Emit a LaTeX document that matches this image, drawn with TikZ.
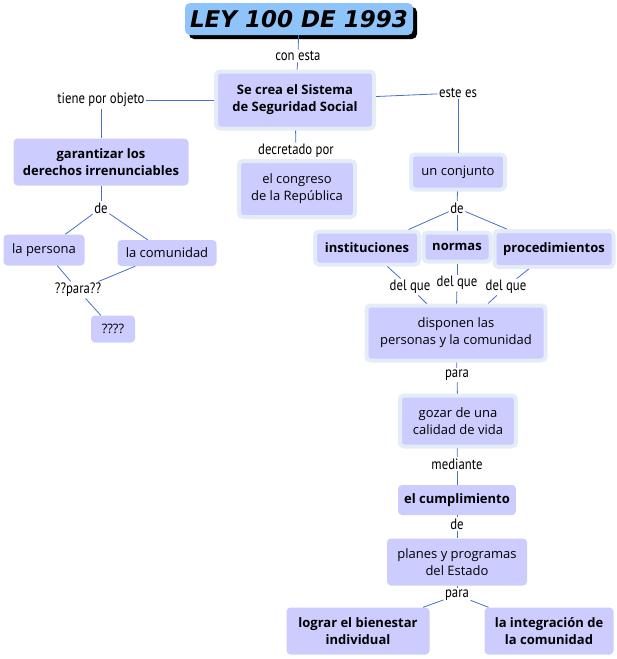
\documentclass[tikz,border=0pt]{standalone}
\usepackage{fontspec}
\usetikzlibrary{shadows}
\newfontfamily\boxfont{Open Sans}
\newfontfamily\titlefont{DejaVu Sans}
\newfontfamily\lblfont[FakeStretch=0.85]{PT Sans}
\definecolor{boxfill}{RGB}{204,204,255}
\definecolor{haloc}{RGB}{228,236,247}
\definecolor{linec}{RGB}{72,110,200}
\definecolor{titlefill}{RGB}{142,196,250}
\tikzstyle{concept} = [rectangle, rounded corners=4pt, fill=boxfill, align=center, inner sep=1pt, font=\boxfont\fontsize{13}{17}\selectfont]
\tikzstyle{halo} = [concept, draw=haloc, line width=4pt]
\tikzstyle{strong} = [font=\boxfont\bfseries\fontsize{13}{17}\selectfont]
\tikzstyle{link} = [inner sep=1.5pt, font=\lblfont\fontsize{15}{16}\selectfont]
\tikzstyle{conn} = [draw=linec, line width=0.8pt]

\begin{document}
\begin{tikzpicture}[x=1pt,y=-1pt]
\useasboundingbox (0,0) rectangle (617,659);
%titulo y conceptos
\node[concept, fill=titlefill, rounded corners=5pt, minimum width=228pt, minimum height=32pt, font=\titlefont\bfseries\itshape\fontsize{23}{26}\selectfont, drop shadow={fill=black, opacity=1, shadow xshift=4pt, shadow yshift=-4pt}](title) at (299,19){LEY 100 DE 1993};
\node[halo, strong, minimum width=158pt, minimum height=57pt](sistema) at (295,100){Se crea el Sistema\\de Seguridad Social};
\node[concept, strong, minimum width=175pt, minimum height=47pt](garantizar) at (101,162){garantizar los\\derechos irrenunciables};
\node[concept, minimum width=81pt, minimum height=31pt](persona) at (44,250){la persona};
\node[concept, minimum width=99pt, minimum height=26pt](comunidad) at (167,253){la comunidad};
\node[concept, minimum width=44pt, minimum height=27pt](dudas) at (113,329){????};
\node[halo, minimum width=116pt, minimum height=56pt](congreso) at (297,189){el congreso\\de la Rep\'ublica};
\node[halo, minimum width=94pt, minimum height=35pt](conjunto) at (458,172){un conjunto};
\node[halo, strong, minimum width=104pt, minimum height=33pt](instituciones) at (367,248){instituciones};
\node[halo, strong, minimum width=67pt, minimum height=29pt](normas) at (457,247){normas};
\node[halo, strong, minimum width=119pt, minimum height=36pt](procedimientos) at (554,249){procedimientos};
\node[halo, minimum width=179pt, minimum height=55pt](disponen) at (456,333){disponen las\\personas y la comunidad};
\node[halo, minimum width=116pt, minimum height=51pt](gozar) at (458,421){gozar de una\\calidad de vida};
\node[concept, strong, minimum width=118pt, minimum height=30pt](cumplimiento) at (457,500){el cumplimiento};
\node[concept, minimum width=140pt, minimum height=47pt](planes) at (457,562){planes y programas\\del Estado};
\node[concept, strong, minimum width=143pt, minimum height=47pt](bienestar) at (358,631){lograr el bienestar\\individual};
\node[concept, strong, minimum width=129pt, minimum height=47pt](integracion) at (549,631){la integraci\'on de\\la comunidad};
%palabras de enlace
\node[link](conesta) at (298,56){con esta};
\node[link](objeto) at (101,100){tiene por objeto};
\node[link](de1) at (101,208){de};
\node[link](para1) at (78,290){??para??};
\node[link](decretado) at (296,151){decretado por};
\node[link](estees) at (458,93){este es};
\node[link](de2) at (457,208){de};
\node[link](delque1) at (410,287){del que};
\node[link](delque2) at (457,283){del que};
\node[link](delque3) at (506,287){del que};
\node[link](para2) at (457,375){para};
\node[link](mediante) at (457,464){mediante};
\node[link](de3) at (457,524){de};
\node[link](para3) at (457,595){para};
%conexiones
\draw[conn] (title) -- (conesta);
\draw[conn] (conesta) -- (sistema);
\draw[conn] (sistema) -- (objeto);
\draw[conn] (objeto) -- (garantizar);
\draw[conn] (garantizar) -- (de1);
\draw[conn] (de1) -- (persona);
\draw[conn] (de1) -- (comunidad);
\draw[conn] (persona) -- (para1);
\draw[conn] (comunidad) -- (para1);
\draw[conn] (para1) -- (dudas);
\draw[conn] (sistema) -- (decretado);
\draw[conn] (decretado) -- (congreso);
\draw[conn] (sistema) -- (estees);
\draw[conn] (estees) -- (conjunto);
\draw[conn] (conjunto) -- (de2);
\draw[conn] (de2) -- (instituciones);
\draw[conn] (de2) -- (normas);
\draw[conn] (de2) -- (procedimientos);
\draw[conn] (instituciones) -- (delque1);
\draw[conn] (normas) -- (delque2);
\draw[conn] (procedimientos) -- (delque3);
\draw[conn] (delque1) -- (disponen);
\draw[conn] (delque2) -- (disponen);
\draw[conn] (delque3) -- (disponen);
\draw[conn] (disponen) -- (para2);
\draw[conn] (para2) -- (gozar);
\draw[conn] (gozar) -- (mediante);
\draw[conn] (mediante) -- (cumplimiento);
\draw[conn] (cumplimiento) -- (de3);
\draw[conn] (de3) -- (planes);
\draw[conn] (planes) -- (para3);
\draw[conn] (para3) -- (bienestar);
\draw[conn] (para3) -- (integracion);
\end{tikzpicture}
\end{document}
